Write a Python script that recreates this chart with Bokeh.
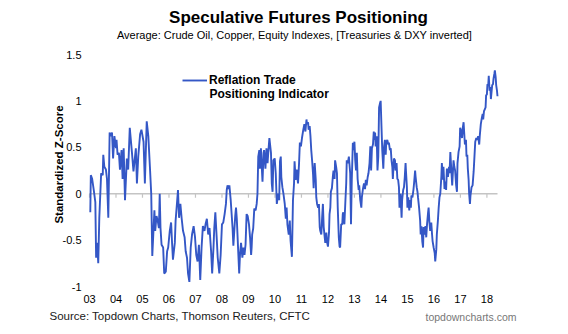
import math
from bokeh.plotting import figure
from bokeh.models import Range1d, Label, Legend, LegendItem, ColumnDataSource
from bokeh.core.properties import value
from bokeh.embed import file_html
from bokeh.resources import INLINE

# ---- data (decimal year, standardized z-score) ----
dates = [
    2003.03, 2003.05, 2003.10, 2003.16, 2003.22, 2003.25, 2003.29, 2003.33, 2003.37, 2003.44,
    2003.50, 2003.52, 2003.56, 2003.62, 2003.66, 2003.71, 2003.76, 2003.81, 2003.85, 2003.89,
    2003.94, 2004.00, 2004.02, 2004.06, 2004.11, 2004.15, 2004.21, 2004.25, 2004.29, 2004.34,
    2004.41, 2004.46, 2004.52, 2004.60, 2004.66, 2004.75, 2004.79, 2004.84, 2004.91, 2004.96,
    2005.04, 2005.09, 2005.16, 2005.22, 2005.28, 2005.33, 2005.37, 2005.45, 2005.48, 2005.53,
    2005.58, 2005.62, 2005.65, 2005.68, 2005.72, 2005.78, 2005.82, 2005.88, 2005.93, 2005.97,
    2006.03, 2006.08, 2006.12, 2006.15, 2006.22, 2006.25, 2006.30, 2006.34, 2006.38, 2006.43,
    2006.48, 2006.53, 2006.59, 2006.63, 2006.68, 2006.72, 2006.77, 2006.82, 2006.87, 2006.93,
    2006.98, 2007.03, 2007.08, 2007.13, 2007.18, 2007.23, 2007.28, 2007.34, 2007.38, 2007.43,
    2007.48, 2007.53, 2007.59, 2007.63, 2007.68, 2007.71, 2007.75, 2007.80, 2007.84, 2007.90,
    2007.95, 2008.00, 2008.05, 2008.10, 2008.15, 2008.18, 2008.21, 2008.25, 2008.28, 2008.33,
    2008.40, 2008.43, 2008.47, 2008.50, 2008.53, 2008.56, 2008.59, 2008.65, 2008.68, 2008.72,
    2008.77, 2008.81, 2008.85, 2008.89, 2008.93, 2008.97, 2009.02, 2009.06, 2009.10, 2009.12,
    2009.14, 2009.18, 2009.22, 2009.27, 2009.31, 2009.34, 2009.37, 2009.41, 2009.43, 2009.47,
    2009.49, 2009.53, 2009.57, 2009.59, 2009.64, 2009.68, 2009.72, 2009.76, 2009.79, 2009.85,
    2009.88, 2009.91, 2009.94, 2009.99, 2010.03, 2010.07, 2010.12, 2010.16, 2010.19, 2010.22,
    2010.24, 2010.28, 2010.32, 2010.37, 2010.41, 2010.44, 2010.47, 2010.52, 2010.56, 2010.59,
    2010.64, 2010.68, 2010.72, 2010.74, 2010.78, 2010.82, 2010.87, 2010.91, 2010.94, 2010.98,
    2011.02, 2011.07, 2011.11, 2011.15, 2011.19, 2011.21, 2011.25, 2011.27, 2011.31, 2011.34,
    2011.37, 2011.41, 2011.44, 2011.46, 2011.50, 2011.54, 2011.56, 2011.59, 2011.63, 2011.66,
    2011.69, 2011.71, 2011.75, 2011.78, 2011.81, 2011.84, 2011.86, 2011.90, 2011.94, 2011.96,
    2012.00, 2012.04, 2012.06, 2012.09, 2012.11, 2012.15, 2012.19, 2012.21, 2012.25, 2012.27,
    2012.31, 2012.34, 2012.37, 2012.41, 2012.44, 2012.46, 2012.50, 2012.54, 2012.56, 2012.58,
    2012.62, 2012.66, 2012.69, 2012.71, 2012.75, 2012.79, 2012.84, 2012.87, 2012.90, 2012.94,
    2012.96, 2013.00, 2013.03, 2013.06, 2013.09, 2013.12, 2013.16, 2013.18, 2013.22, 2013.26,
    2013.28, 2013.32, 2013.36, 2013.40, 2013.43, 2013.46, 2013.50, 2013.53, 2013.57, 2013.60,
    2013.63, 2013.66, 2013.70, 2013.73, 2013.76, 2013.78, 2013.80, 2013.84, 2013.87, 2013.90,
    2013.93, 2013.97, 2013.99, 2014.02, 2014.05, 2014.09, 2014.12, 2014.15, 2014.18, 2014.20,
    2014.24, 2014.28, 2014.30, 2014.34, 2014.37, 2014.40, 2014.43, 2014.45, 2014.49, 2014.53,
    2014.55, 2014.59, 2014.62, 2014.65, 2014.68, 2014.70, 2014.74, 2014.78, 2014.80, 2014.84,
    2014.87, 2014.90, 2014.93, 2014.95, 2014.98, 2015.00, 2015.03, 2015.07, 2015.10, 2015.13,
    2015.15, 2015.19, 2015.23, 2015.25, 2015.29, 2015.31, 2015.35, 2015.38, 2015.40, 2015.44,
    2015.48, 2015.50, 2015.53, 2015.56, 2015.59, 2015.61, 2015.65, 2015.68, 2015.71, 2015.74,
    2015.78, 2015.80, 2015.83, 2015.86, 2015.90, 2015.93, 2015.95, 2015.99, 2016.03, 2016.05,
    2016.09, 2016.11, 2016.15, 2016.18, 2016.21, 2016.24, 2016.28, 2016.30, 2016.34, 2016.36,
    2016.40, 2016.44, 2016.46, 2016.49, 2016.53, 2016.57, 2016.59, 2016.62, 2016.65, 2016.69,
    2016.72, 2016.74, 2016.77, 2016.80, 2016.84, 2016.87, 2016.89, 2016.93, 2016.97, 2016.99,
    2017.03, 2017.06, 2017.09, 2017.12, 2017.14, 2017.17, 2017.21, 2017.23, 2017.26, 2017.28,
    2017.31, 2017.33, 2017.36, 2017.38, 2017.42, 2017.46, 2017.50, 2017.53, 2017.56, 2017.60,
    2017.63, 2017.67, 2017.71, 2017.73, 2017.77, 2017.81, 2017.84, 2017.86, 2017.89, 2017.92,
    2017.95, 2017.97, 2018.00, 2018.02, 2018.05, 2018.07, 2018.10, 2018.13, 2018.15, 2018.18,
    2018.20, 2018.23, 2018.25, 2018.28, 2018.30, 2018.33, 2018.35, 2018.38, 2018.40,
]
zscore = [
    -0.20, 0.20, 0.16, 0.04, -0.09, -0.69, -0.53, -0.75, -0.26, 0.22,
    0.20, 0.42, 0.29, 0.26, 0.16, -0.26, 0.66, 0.62, 0.66, 0.38,
    0.62, 0.49, 0.58, 0.42, 0.44, 0.26, 0.47, 0.16, 0.49, -0.07,
    0.38, 0.26, 0.71, 0.45, 0.24, 0.49, 0.11, 0.40, 0.64, 0.69,
    0.56, 0.11, 0.78, 0.62, 0.29, 0.00, -0.67, -0.18, -0.40, -0.24,
    -0.30, -0.37, 0.00, -0.37, -0.55, -0.58, -0.86, -0.84, -0.62, -0.58,
    -0.40, -0.31, -0.55, -0.71, -0.53, -0.29, -0.11, 0.04, -0.26, -0.11,
    -0.27, -0.40, -0.47, -0.62, -0.69, -0.86, -0.95, -0.58, -0.44, -0.35,
    -0.46, -0.66, -0.73, -0.55, -0.93, -0.58, -0.35, -0.40, -0.33, -0.27,
    -0.44, -0.37, -0.62, -0.86, -0.58, -0.37, -0.20, -0.47, -0.69, -0.86,
    -0.66, -0.33, -0.31, -0.22, -0.11, 0.04, 0.09, 0.05, 0.09, -0.07,
    -0.37, -0.56, -0.38, -0.24, -0.15, -0.27, -0.47, -0.86, -0.66, -0.53,
    -0.69, -0.58, -0.66, -0.55, -0.22, -0.24, -0.33, -0.47, -0.66, -0.58,
    -0.44, -0.37, -0.16, -0.18, -0.11, 0.00, 0.40, 0.47, 0.27, 0.49,
    0.36, 0.13, 0.44, 0.47, 0.27, 0.49, 0.33, 0.49, 0.60, 0.44,
    0.11, 0.02, 0.36, 0.38, 0.22, -0.11, 0.00, -0.07, 0.35, 0.40,
    0.18, 0.07, 0.00, -0.11, -0.27, -0.15, -0.33, -0.44, -0.29, -0.51,
    -0.68, -0.07, 0.11, 0.35, 0.15, 0.26, 0.11, 0.33, 0.55, 0.51,
    0.60, 0.69, 0.75, 0.67, 0.80, 0.75, 0.77, 0.69, 0.73, 0.62,
    0.47, 0.33, 0.20, 0.06, 0.33, 0.15, -0.04, -0.11, -0.15, -0.11,
    -0.36, -0.40, -0.44, -0.26, -0.11, -0.36, -0.42, -0.53, -0.42, -0.51,
    -0.57, -0.42, -0.22, -0.15, 0.02, 0.06, 0.20, 0.25, 0.16, 0.36,
    0.29, 0.22, -0.15, -0.47, -0.57, -0.58, -0.33, -0.33, -0.22, -0.20,
    -0.33, -0.07, 0.11, 0.36, 0.33, 0.40, 0.22, -0.33, 0.15, 0.55,
    0.47, 0.56, 0.36, 0.25, 0.44, 0.16, 0.04, 0.09, -0.07, -0.15,
    -0.04, 0.05, 0.11, 0.05, 0.15, 0.09, 0.18, 0.22, 0.33, 0.51,
    0.25, 0.49, 0.53, 0.67, 0.58, 0.66, 0.51, 0.62, 0.25, 0.40,
    0.93, 0.98, 1.00, 0.73, 0.47, 0.27, 0.51, 0.58, 0.42, 0.55,
    0.58, 0.53, 0.55, 0.47, 0.49, 0.36, 0.29, 0.16, 0.38, 0.36,
    0.25, 0.33, 0.16, 0.15, 0.07, -0.15, 0.00, -0.26, -0.07, 0.04,
    0.07, 0.18, 0.33, 0.22, 0.07, -0.15, -0.04, -0.18, -0.07, -0.15,
    -0.02, -0.04, 0.05, 0.11, 0.25, 0.18, 0.07, 0.02, -0.04, -0.15,
    -0.29, -0.44, -0.35, -0.51, -0.58, -0.36, -0.44, -0.35, -0.47, -0.33,
    -0.20, -0.15, -0.31, -0.40, -0.31, -0.44, -0.51, -0.58, -0.64, -0.73,
    -0.60, -0.44, -0.29, -0.15, -0.04, 0.00, 0.18, 0.33, 0.15, 0.29,
    0.05, 0.13, 0.04, 0.27, 0.18, 0.29, 0.22, 0.45, 0.29, 0.09,
    0.25, 0.36, 0.29, 0.25, 0.09, 0.02, 0.33, 0.45, 0.51, 0.71,
    0.67, 0.60, 0.71, 0.77, 0.67, 0.53, 0.58, 0.40, 0.42, 0.27,
    0.15, 0.00, -0.11, -0.02, 0.07, 0.09, 0.24, 0.40, 0.56, 0.60,
    0.58, 0.62, 0.53, 0.62, 0.75, 0.82, 0.86, 0.80, 0.89, 0.91,
    0.93, 1.06, 1.07, 1.18, 1.17, 1.27, 1.11, 1.15, 1.02, 1.11,
    1.17, 1.18, 1.24, 1.29, 1.33, 1.26, 1.17, 1.11, 1.05,
]
tick_years = list(range(2003, 2019))
tick_year_labels = ["03", "04", "05", "06", "07", "08", "09", "10", "11", "12",
                    "13", "14", "15", "16", "17", "18"]
y_ticks = [-1, -0.5, 0, 0.5, 1, 1.5]
y_tick_labels = ["-1", "-0.5", "0", "0.5", "1", "1.5"]

title_text = "Speculative Futures Positioning"
subtitle_text = "Average: Crude Oil, Copper, Equity Indexes, [Treasuries & DXY inverted]"
series_name_1 = "Reflation Trade"
series_name_2 = "Positioning Indicator"
y_title = "Standardized Z-Score"
source_text = "Source: Topdown Charts, Thomson Reuters, CFTC"
brand_text = "topdowncharts.com"

# ---- layout constants (the whole canvas is the frame) ----
FONT = "Liberation Sans"
LINE_COLOR = "#3457C6"
W, H = 568, 334
PLOT_LEFT, PLOT_RIGHT, PLOT_TOP, PLOT_BOTTOM = 89.0, 497.0, 54.0, 286.0
X0, X1 = 2003.0, 2018.4          # years at plot-area edges
Y0, Y1 = -1.0, 1.5               # values at plot-area edges
px_per_year = (PLOT_RIGHT - PLOT_LEFT) / (X1 - X0)
px_per_unit = (PLOT_BOTTOM - PLOT_TOP) / (Y1 - Y0)


def xd(px):
    return X0 + (px - PLOT_LEFT) / px_per_year


def yd(py):
    return Y0 + (PLOT_BOTTOM - py) / px_per_unit


src = ColumnDataSource(dict(x=dates, y=zscore))

p = figure(width=W, height=H, output_backend="svg", toolbar_location=None,
           x_range=Range1d(xd(0), xd(W)), y_range=Range1d(yd(H), yd(0)),
           x_axis_location=None, y_axis_location=None, min_border=0)
p.outline_line_color = None
p.xgrid.grid_line_color = None
p.ygrid.grid_line_color = None
p.background_fill_color = "white"
p.border_fill_color = "white"

# zero line with small year ticks
p.segment(x0=[X0], y0=[0], x1=[X1], y1=[0], line_color="#C4C4C4", line_width=1.5)
p.segment(x0=tick_years, y0=[0] * len(tick_years), x1=tick_years,
          y1=[-4 / px_per_unit] * len(tick_years), line_color="#C4C4C4", line_width=1.2)

# tick labels
p.text(x=tick_years, y=[yd(298)] * len(tick_years), text=tick_year_labels,
       text_font=value(FONT), text_font_size="11px", text_color="#000000",
       text_align="center", text_baseline="middle")
p.text(x=[xd(81)] * len(y_ticks), y=y_ticks, text=y_tick_labels,
       text_font=value(FONT), text_font_size="11px", text_color="#000000",
       text_align="right", text_baseline="middle")

r = p.line("x", "y", source=src, line_color=LINE_COLOR, line_width=1.9)

legend = Legend(items=[LegendItem(label=series_name_1, renderers=[r])],
                location=(182, H - 87), orientation="vertical")
legend.background_fill_alpha = 0
legend.border_line_alpha = 0
legend.padding = 0
legend.margin = 0
legend.spacing = 0
legend.glyph_width = 25
legend.glyph_height = 14
legend.label_height = 14
legend.label_standoff = 2
legend.label_text_font = FONT
legend.label_text_font_style = "bold"
legend.label_text_font_size = "12px"
legend.label_text_color = "#000000"
p.add_layout(legend)


def add_text(px, py, text, size, style="normal", color="#000000", align="left", angle=0.0):
    p.add_layout(Label(x=xd(px), y=yd(py), text=text, text_font=FONT, text_font_size=size,
                       text_font_style=style, text_color=color, text_align=align,
                       text_baseline="middle", angle=angle))


add_text(209, 93.5, series_name_2, "12px", "bold")
add_text(298, 17, title_text, "17px", "bold", align="center")
add_text(294, 34, subtitle_text, "11px", align="center")
add_text(58, 164, y_title, "11.5px", "bold", align="center", angle=math.pi / 2)
add_text(49, 315, source_text, "11.5px", color="#1A1A1A")
add_text(425, 316, brand_text, "10.5px", color="#777777")

open("out.html", "w").write(file_html(p, INLINE))
